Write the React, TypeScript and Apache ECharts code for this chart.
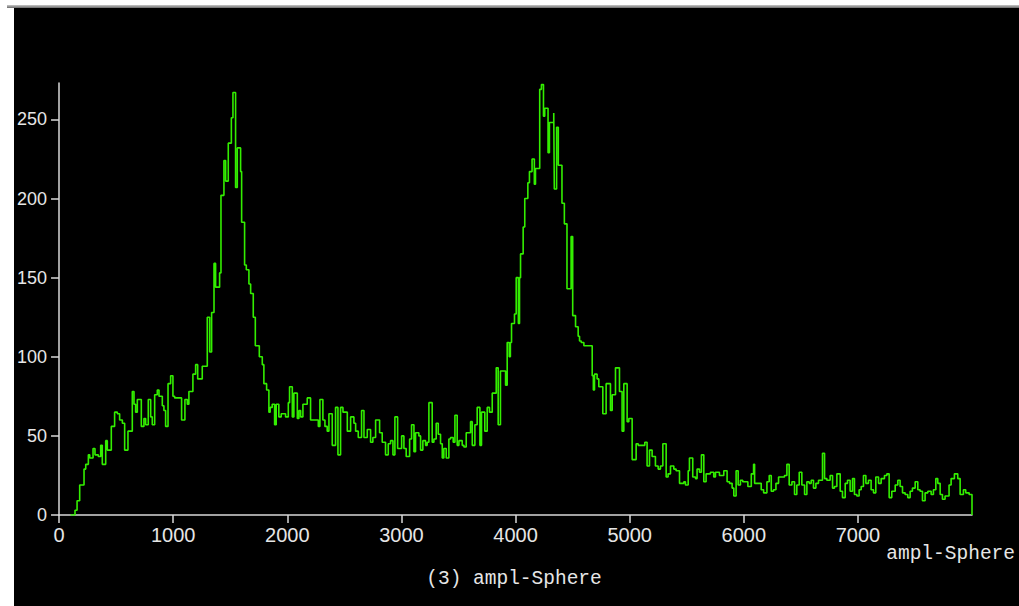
import React, { useEffect, useRef } from "react";
import * as echarts from "echarts";

// ---- axis settings / labels ----
const X_MIN = 0;
const X_MAX = 8000;
const Y_MIN = 0;
const Y_MAX = 273;
const xTickValues = [0, 1000, 2000, 3000, 4000, 5000, 6000, 7000];
const yTickValues = [0, 50, 100, 150, 200, 250];
const titleText = "(3) ampl-Sphere";
const xAxisName = "ampl-Sphere";

// ---- histogram: lower bin edge (ampl) and entries ----
const edgesRise = [100,140,158,181,219,234,257,269,298,315,344,365,379,409,423,458,487,511,531,555,575,604,642,657,671,686,721,744,759,782,803,817,838,861,876,905,919,934,955,978,998,1013,1074,1103,1124,1138,1173,1197,1215,1255,1299,1320,1337,1358,1372,1407,1419,1445,1460,1483,1510,1524,1547,1562,1591,1600,1626,1641,1664,1679,1702,1720,1755,1781,1795,1819,1839,1850,1868,1889,1903,1926,1947,1985];
const countsRise = [0,3,9,19,29,32,38,36,42,38,37,44,32,47,41,56,65,64,60,58,41,53,78,70,65,73,56,61,57,73,62,57,76,79,75,69,66,56,83,88,75,74,60,73,70,78,89,95,86,94,125,103,128,159,144,153,202,224,211,235,251,267,207,232,217,185,158,155,146,140,125,107,100,95,83,79,65,68,70,57,70,62,64,62];

const edgesValley = [2009,2020,2044,2058,2088,2102,2117,2137,2175,2204,2272,2286,2312,2330,2350,2365,2394,2423,2444,2467,2488,2526,2555,2584,2599,2622,2651,2672,2701,2730,2750,2774,2809,2832,2861,2885,2905,2926,2943,2967,3002,3022,3042,3072,3089,3110,3124,3153,3168,3188,3212,3226,3241,3270,3285,3305,3323,3343,3358,3372,3393,3416,3431,3454,3469,3489,3504,3533,3548,3568,3606,3621,3644,3664,3688,3702,3731,3752,3772,3796,3831,3848,3868,3913];
const countsValley = [71,81,62,77,61,66,62,70,74,60,56,73,60,56,53,64,44,68,38,68,65,53,62,58,53,49,66,49,54,46,49,60,52,46,38,45,47,38,62,42,50,42,37,48,57,40,52,50,41,47,44,46,71,46,48,58,51,45,36,42,36,48,49,46,63,44,47,44,43,52,59,44,57,68,44,65,53,68,65,77,93,57,91,82];

const edgesPeak = [3927,3945,3955,3965,3991,4006,4025,4035,4044,4067,4081,4108,4122,4145,4165,4175,4212,4227,4245,4256,4285,4297,4335,4340,4360,4375,4407,4428,4451,4487,4501,4526,4549,4561,4576,4599,4672,4682,4692,4715,4730,4765,4794,4832,4847,4876,4911,4934,4949,4978,4993,5022];
const countsPeak = [109,100,109,121,127,150,121,150,165,182,200,210,217,225,209,219,269,272,252,257,229,248,254,206,245,221,197,184,143,176,126,119,113,110,109,107,88,79,89,86,81,64,83,66,76,93,78,53,83,59,61,35];

const edgesFall = [5057,5075,5133,5153,5174,5197,5226,5250,5270,5291,5320,5337,5358,5387,5407,5437,5475,5489,5513,5524,5553,5577,5591,5612,5629,5650,5670,5708,5737,5752,5787,5825,5854,5875,5898,5913,5933,5951,5971,5991];
const countsFall = [45,44,46,31,41,37,31,29,31,45,24,26,31,29,28,20,21,19,28,36,24,23,29,27,38,21,26,27,24,27,25,28,21,20,17,12,28,19,22,21];

const edgesTail = [6036,6066,6086,6095,6124,6153,6174,6203,6223,6241,6261,6282,6305,6357,6378,6398,6422,6445,6465,6486,6509,6533,6553,6573,6591,6611,6632,6655,6690,6708,6728,6757,6778,6795,6816,6845,6865,6889,6909,6932,6953,6970,6991,7011,7029,7049,7070,7093,7116,7137,7157,7181,7204,7233,7254,7274,7297,7327,7350,7370,7391,7414,7437,7458,7478,7502,7525,7545,7566,7589,7613,7642,7662,7683,7700,7721,7741,7764,7799,7817,7846,7875,7896,7925,7945,7975];
const countsTail = [18,26,32,20,20,16,14,21,25,15,16,20,24,25,32,19,21,13,19,27,19,13,21,20,22,17,20,22,39,23,22,25,17,18,26,15,11,20,22,15,23,13,12,16,18,25,20,22,16,14,24,20,23,25,26,11,15,19,22,18,14,13,11,15,17,21,16,15,9,14,15,13,16,23,20,13,10,12,19,23,26,23,13,16,14,13];

const AXIS_COLOR = "#d8d8d8";
const TEXT_COLOR = "#e6e6e6";
const LINE_COLOR = "#33ee00";

export default function App() {
  const ref = useRef<HTMLDivElement>(null);

  useEffect(() => {
    if (!ref.current) return;
    const chart = echarts.init(ref.current, null, { renderer: "svg" });
    const edges = [...edgesRise, ...edgesValley, ...edgesPeak, ...edgesFall, ...edgesTail];
    const counts = [...countsRise, ...countsValley, ...countsPeak, ...countsFall, ...countsTail];
    const data: [number, number][] = edges.map((e, i) => [e, counts[i]]);
    data.push([X_MAX, 0]);

    chart.setOption({
      animation: false,
      backgroundColor: "#000000",
      grid: { left: 44, top: 75, width: 914, height: 432, containLabel: false },
      xAxis: {
        type: "value",
        min: X_MIN,
        max: X_MAX,
        interval: 1000,
        axisLine: { show: true, onZero: false, lineStyle: { color: AXIS_COLOR, width: 1.5 } },
        axisTick: { show: true, length: 8, customValues: xTickValues, lineStyle: { color: AXIS_COLOR, width: 1.5 } },
        axisLabel: {
          customValues: xTickValues,
          formatter: (v: number) => String(v),
          color: TEXT_COLOR,
          fontFamily: "Liberation Sans",
          fontSize: 20,
          margin: 10,
        },
        splitLine: { show: false },
      },
      yAxis: {
        type: "value",
        min: Y_MIN,
        max: Y_MAX,
        interval: 50,
        axisLine: { show: true, lineStyle: { color: AXIS_COLOR, width: 1.5 } },
        axisTick: { show: true, length: 8, customValues: yTickValues, lineStyle: { color: AXIS_COLOR, width: 1.5 } },
        axisLabel: {
          customValues: yTickValues,
          formatter: (v: number) => String(v),
          color: TEXT_COLOR,
          fontFamily: "Liberation Sans",
          fontSize: 18,
          margin: 12,
        },
        splitLine: { show: false },
      },
      series: [
        {
          type: "line",
          step: "end",
          data,
          symbol: "none",
          showSymbol: false,
          lineStyle: { color: LINE_COLOR, width: 1.6 },
        },
      ],
      graphic: [
        {
          type: "text",
          x: 1001,
          y: 546,
          style: {
            text: xAxisName,
            fill: TEXT_COLOR,
            font: "19.5px 'Liberation Mono'",
            textAlign: "right",
            textVerticalAlign: "middle",
          },
        },
        {
          type: "text",
          x: 500,
          y: 571,
          style: {
            text: titleText,
            fill: TEXT_COLOR,
            font: "19.5px 'Liberation Mono'",
            textAlign: "center",
            textVerticalAlign: "middle",
          },
        },
      ],
    });
    return () => chart.dispose();
  }, []);

  return (
    <div style={{ position: "absolute", left: 0, top: 0, width: 1019, height: 606, background: "#ffffff", overflow: "hidden" }}>
      <div style={{ position: "absolute", left: 7, top: 5, width: 1012, height: 3, background: "linear-gradient(#c8c8c8, #6a6a6a)" }} />
      <div ref={ref} style={{ position: "absolute", left: 14, top: 8, width: 1005, height: 598 }} />
    </div>
  );
}
